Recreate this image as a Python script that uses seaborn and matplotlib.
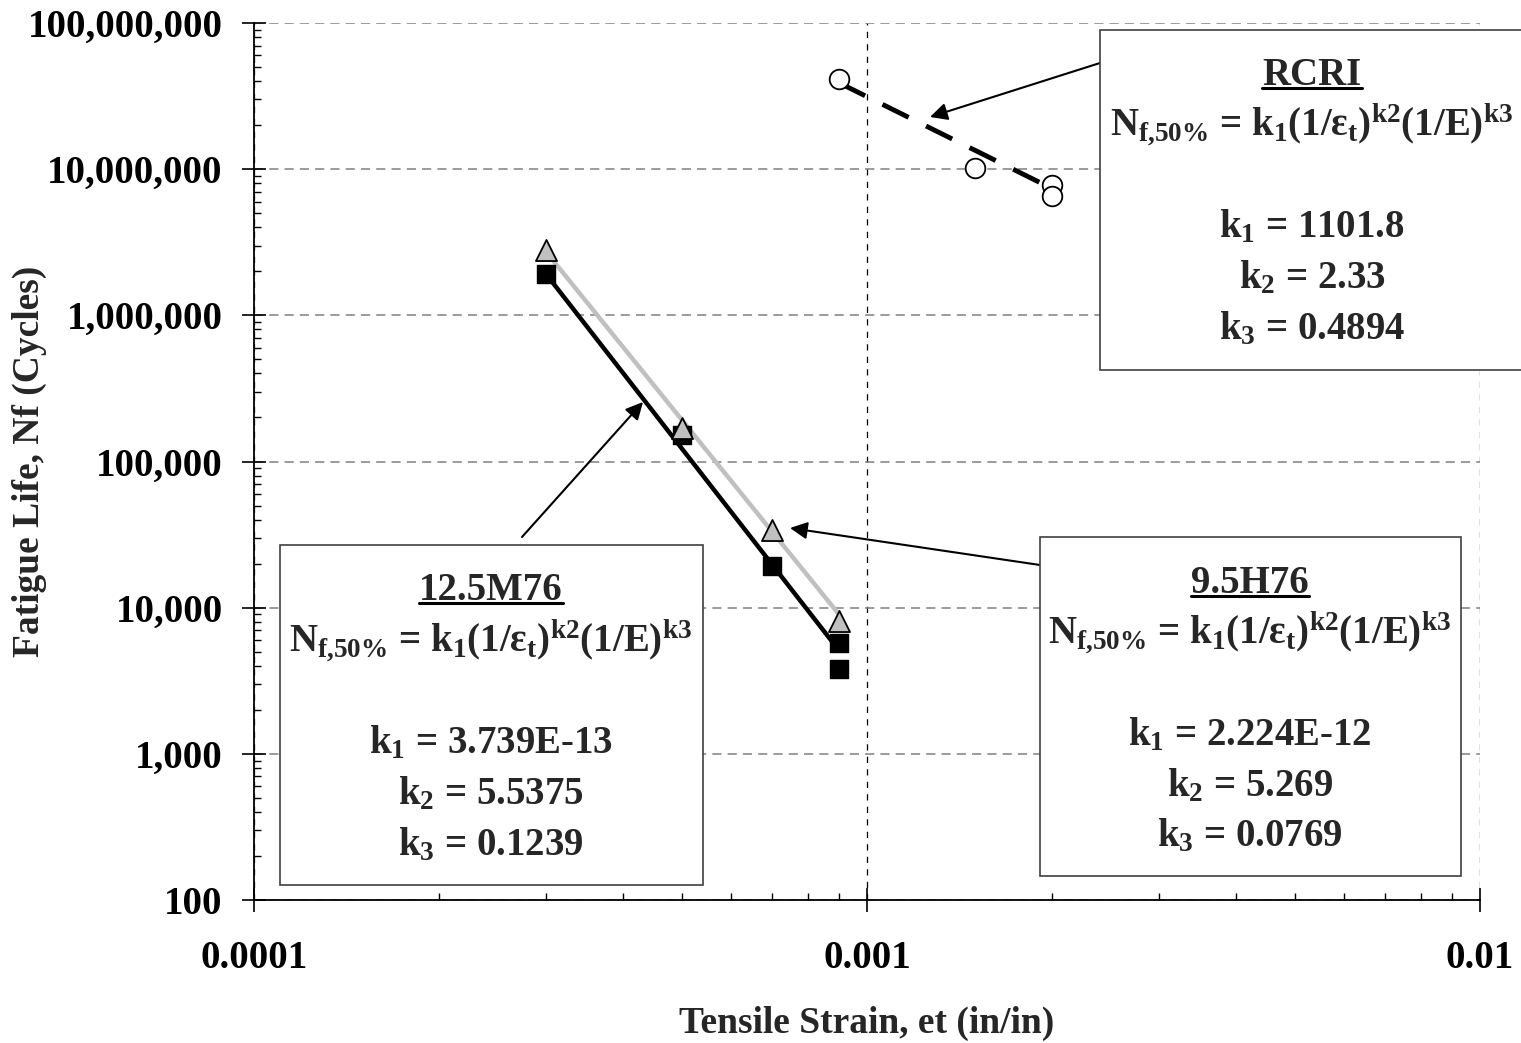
import numpy as np
import pandas as pd
import matplotlib
matplotlib.use("Agg")
import matplotlib.pyplot as plt
import matplotlib.ticker as mticker
from matplotlib.patches import Rectangle
from matplotlib.lines import Line2D
import seaborn as sns

# ---------------- data ----------------
strain_h76 = [0.0003, 0.0005, 0.0007, 0.0009]
life_h76 = [2.8e6, 1.7e5, 3.4e4, 8.1e3]
fit_h76_x = [0.0003, 0.0009]
fit_h76_y = [2.7e6, 9.0e3]

strain_m76 = [0.0003, 0.0005, 0.0007, 0.0009, 0.0009]
life_m76 = [1.92e6, 1.52e5, 1.93e4, 5.7e3, 3.8e3]
fit_m76_x = [0.0003, 0.0009]
fit_m76_y = [1.9e6, 5.1e3]

strain_rcri = [0.0009, 0.0015, 0.002, 0.002]
life_rcri = [4.14e7, 1.02e7, 7.8e6, 6.6e6]
fit_rcri_x = [0.0009, 0.002]
fit_rcri_y = [3.9e7, 7.4e6]

x_ticks = [0.0001, 0.001, 0.01]
x_ticklabels = ["0.0001", "0.001", "0.01"]
y_ticks = [1e2, 1e3, 1e4, 1e5, 1e6, 1e7, 1e8]
y_ticklabels = ["100", "1,000", "10,000", "100,000", "1,000,000", "10,000,000", "100,000,000"]

box_m76 = ["12.5M76", "3.739E-13", "5.5375", "0.1239"]
box_h76 = ["9.5H76", "2.224E-12", "5.269", "0.0769"]
box_rcri = ["RCRI", "1101.8", "2.33", "0.4894"]

# ---------------- style ----------------
sns.set_theme(style="white")
plt.rcParams["font.family"] = ["Liberation Serif", "DejaVu Serif"]
plt.rcParams["font.weight"] = "bold"
plt.rcParams["mathtext.fontset"] = "custom"
plt.rcParams["mathtext.rm"] = "Liberation Serif:bold"
plt.rcParams["mathtext.it"] = "Liberation Serif:bold"
plt.rcParams["mathtext.bf"] = "Liberation Serif:bold"
plt.rcParams["mathtext.default"] = "rm"

W, H = 1521, 1043
fig = plt.figure(figsize=(W / 100, H / 100), dpi=100)
ax = fig.add_axes([254 / W, 1 - 900 / H, (1480 - 254) / W, (900 - 23) / H])
ax.set_xscale("log")
ax.set_yscale("log")
ax.set_xlim(1e-4, 1e-2)
ax.set_ylim(1e2, 1e8)

df_h = pd.DataFrame({"x": fit_h76_x, "y": fit_h76_y})
df_m = pd.DataFrame({"x": fit_m76_x, "y": fit_m76_y})
df_r = pd.DataFrame({"x": fit_rcri_x, "y": fit_rcri_y})

sns.lineplot(data=df_m, x="x", y="y", ax=ax, color="black", lw=3.2, zorder=3)
sns.lineplot(data=df_h, x="x", y="y", ax=ax, color="#C0C0C0", lw=3.2, zorder=3)
l = sns.lineplot(data=df_r, x="x", y="y", ax=ax, color="black", lw=3.5, zorder=3)
l.lines[-1].set_dashes([6, 4])

sns.scatterplot(x=strain_m76, y=life_m76, ax=ax, marker="s", s=170, color="black",
                edgecolor="black", linewidth=1, zorder=4)
sns.scatterplot(x=strain_h76, y=life_h76, ax=ax, marker="^", s=230, color="#C0C0C0",
                edgecolor="black", linewidth=1.3, zorder=5)
sns.scatterplot(x=strain_rcri, y=life_rcri, ax=ax, marker="o", s=200, color="white",
                edgecolor="black", linewidth=1.3, zorder=4)

# axes / ticks
for s in ["top", "right"]:
    ax.spines[s].set_visible(False)
for s in ["left", "bottom"]:
    ax.spines[s].set_color("black")
    ax.spines[s].set_linewidth(1.3)

ax.set_xticks(x_ticks)
ax.set_xticklabels(x_ticklabels)
ax.set_yticks(y_ticks)
ax.set_yticklabels(y_ticklabels)
ax.xaxis.set_minor_locator(mticker.LogLocator(base=10, subs=np.arange(2, 10), numticks=20))
ax.yaxis.set_minor_locator(mticker.LogLocator(base=10, subs=np.arange(2, 10), numticks=20))
ax.xaxis.set_minor_formatter(mticker.NullFormatter())
ax.yaxis.set_minor_formatter(mticker.NullFormatter())
ax.tick_params(which="major", direction="inout", length=17, width=1.2, colors="black",
               labelsize=28, left=True, bottom=True)
ax.tick_params(which="minor", direction="in", length=5, width=1.0, colors="black",
               left=True, bottom=True)
ax.tick_params(axis="x", which="major", pad=20)
ax.tick_params(axis="y", which="major", pad=14)
for t in ax.get_xticklabels() + ax.get_yticklabels():
    t.set_fontweight("bold")

ax.yaxis.grid(True, which="major", color="#808080", linestyle=(0, (6, 4)), lw=1.1)
ax.xaxis.grid(True, which="major", color="black", linestyle=(0, (5, 5)), lw=0.9)
ax.set_axisbelow(True)

ax.set_xlabel("Tensile Strain, et (in/in)", fontsize=27, fontweight="bold", va="center")
ax.set_ylabel("Fatigue Life, Nf (Cycles)", fontsize=27, fontweight="bold", va="center")
ax.xaxis.set_label_coords(0.5, (900 - 1023) / 877)
ax.yaxis.set_label_coords((29 - 254) / 1226, 0.5)

# ---------------- annotation boxes ----------------
formula = r"N$_{f{,}50\%}$ = k$_1$(1/ε$_t$)$^{k2}$(1/E)$^{k3}$"
FS = 28


def fy(y):
    return 1 - y / H


def box(x0, y0, x1, y1, cx, title, k1, k2, k3, ys):
    r = Rectangle((x0 / W, fy(y1)), (x1 - x0) / W, (y1 - y0) / H, transform=fig.transFigure,
                  facecolor="white", edgecolor="#404040", lw=1.2, zorder=10)
    fig.patches.append(r)
    kw = dict(ha="center", va="baseline", fontsize=FS, fontweight="bold", zorder=11)
    t = fig.text(cx / W, fy(ys[0]), title, **kw)
    fig.text(cx / W, fy(ys[1]), formula, **kw)
    fig.text(cx / W, fy(ys[2]), "k$_1$ = " + k1, **kw)
    fig.text(cx / W, fy(ys[3]), "k$_2$ = " + k2, **kw)
    fig.text(cx / W, fy(ys[4]), "k$_3$ = " + k3, **kw)
    return t, ys[0]


# baselines (pixels from top)
titles = []
titles.append(box(280, 545, 703, 885, 491, *box_m76, [600, 652, 753, 804, 855]))
titles.append(box(1040, 537, 1461, 876, 1250, *box_h76, [593, 644, 745, 796, 846]))
titles.append(box(1100, 30, 1530, 370, 1312, *box_rcri, [85, 136, 237, 288, 339]))

fig.canvas.draw()
rend = fig.canvas.get_renderer()
for t, base in titles:
    bb = t.get_window_extent(renderer=rend)
    yline = H - base - 3
    fig.add_artist(Line2D([bb.x0 / W, bb.x1 / W], [yline / H, yline / H],
                          transform=fig.transFigure, color="black", lw=2.2, zorder=12))

# arrows (tail -> tip), figure pixel coords from top-left
arrows = [((1100, 63), (930, 117)), ((522, 537), (643, 402)), ((1040, 565), (790, 528))]
for (tx, ty), (hx, hy) in arrows:
    ax.annotate("", xy=(hx, H - hy), xycoords="figure pixels",
                xytext=(tx, H - ty), textcoords="figure pixels",
                arrowprops=dict(arrowstyle="-|>", color="black", lw=1.5, mutation_scale=26,
                                shrinkA=0, shrinkB=0), zorder=13)

fig.savefig("out.png", dpi=100)
